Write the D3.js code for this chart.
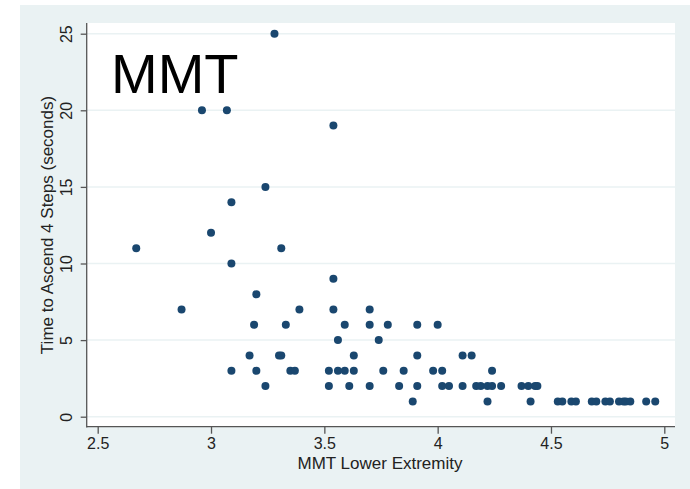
<!DOCTYPE html>
<meta charset="utf-8"/>
<style>
  body { margin: 0; background: #fff; }
  svg { display: block; font-family: "Liberation Sans", Arial, sans-serif; }
</style>
<svg width="690" height="489"></svg>
<script src="https://d3js.org/d3.v7.min.js" charset="utf-8"></script>
<script>

// data: MMT lower extremity score vs. time to ascend 4 steps
var mmtScore = [
  2.67, 2.87, 2.96, 3.00, 3.07, 3.09, 3.09, 3.09, 3.17, 3.19,
  3.20, 3.20, 3.24, 3.24, 3.28, 3.30, 3.31, 3.31, 3.33, 3.35,
  3.37, 3.39, 3.52, 3.52, 3.54, 3.54, 3.54, 3.56, 3.56, 3.59,
  3.59, 3.61, 3.63, 3.63, 3.70, 3.70, 3.70, 3.74, 3.76, 3.78,
  3.83, 3.85, 3.89, 3.91, 3.91, 3.91, 3.98, 4.00, 4.02, 4.02,
  4.05, 4.11, 4.11, 4.15, 4.17, 4.19, 4.22, 4.22, 4.24, 4.24,
  4.28, 4.37, 4.40, 4.41, 4.43, 4.44, 4.53, 4.55, 4.59, 4.61,
  4.68, 4.70, 4.74, 4.76, 4.80, 4.82, 4.83, 4.85, 4.92, 4.96
];
var ascendTime = [
  11, 7, 20, 12, 20, 14, 10, 3, 4, 6,
  8, 3, 15, 2, 25, 4, 4, 11, 6, 3,
  3, 7, 3, 2, 19, 9, 7, 5, 3, 6,
  3, 2, 4, 3, 7, 6, 2, 5, 3, 6,
  2, 3, 1, 6, 4, 2, 3, 6, 3, 2,
  2, 4, 2, 4, 2, 2, 2, 1, 3, 2,
  2, 2, 2, 1, 2, 2, 1, 1, 1, 1,
  1, 1, 1, 1, 1, 1, 1, 1, 1, 1
];
var xTicks = [2.5, 3, 3.5, 4, 4.5, 5];
var yTicks = [0, 5, 10, 15, 20, 25];

var svg = d3.select("svg");

// stata-ish graph region and plot region
svg.append("rect")
    .attr("x", 20).attr("y", 5).attr("width", 670).attr("height", 484)
    .attr("fill", "#eaf2f3");
svg.append("rect")
    .attr("x", 87).attr("y", 23).attr("width", 588).attr("height", 404)
    .attr("fill", "#fff");

var x = d3.scaleLinear().domain([2.5, 5]).range([97.7, 664.3]);
var y = d3.scaleLinear().domain([0, 25]).range([416.7, 33.7]);

// grid lines
svg.append("g").selectAll("line")
  .data(yTicks)
  .enter().append("line")
    .attr("x1", 87).attr("x2", 675)
    .attr("y1", d => y(d)).attr("y2", d => y(d))
    .attr("stroke", "#eaf2f3")
    .attr("stroke-width", 1.5);

// x axis
var xAxis = svg.append("g")
    .attr("transform", "translate(0,426.7)")
    .call(d3.axisBottom(x).tickValues(xTicks).tickSize(7).tickPadding(4)
          .tickFormat(d3.format("")));
xAxis.select(".domain").attr("d", "M86.7,0H675").attr("stroke", "#555").attr("stroke-width", 1.3);
xAxis.selectAll(".tick line").attr("stroke", "#555").attr("stroke-width", 1.3);
xAxis.selectAll(".tick text")
    .attr("font-size", "16px")
    .attr("font-family", "Liberation Sans, Arial, sans-serif")
    .attr("fill", "#222");

// y axis, labels turned like stata does
var yAxis = svg.append("g")
    .attr("transform", "translate(86.7,0)")
    .call(d3.axisLeft(y).tickValues(yTicks).tickSize(6));
yAxis.select(".domain").attr("d", "M0,23V427.4").attr("stroke", "#555").attr("stroke-width", 1.3);
yAxis.selectAll(".tick line").attr("stroke", "#555").attr("stroke-width", 1.3);
yAxis.selectAll(".tick text")
    .attr("x", null).attr("dy", null)
    .attr("transform", "translate(-15,0) rotate(-90)")
    .attr("text-anchor", "middle")
    .attr("font-size", "16px")
    .attr("font-family", "Liberation Sans, Arial, sans-serif")
    .attr("fill", "#222");

// titles
svg.append("text")
    .attr("x", 380).attr("y", 469)
    .attr("text-anchor", "middle")
    .style("font-size", "17px")
    .attr("fill", "#222")
    .text("MMT Lower Extremity");

svg.append("text")
    .attr("transform", "translate(53,225) rotate(-90)")
    .attr("text-anchor", "middle")
    .style("font-size", "17px")
    .attr("fill", "#222")
    .text("Time to Ascend 4 Steps (seconds)");

svg.append("text")
    .attr("x", 111).attr("y", 93)
    .style("font-size", "56px")
    .attr("fill", "#000")
    .text("MMT");

// points
svg.append("g").selectAll("circle")
  .data(mmtScore)
  .enter().append("circle")
    .attr("cx", d => x(d))
    .attr("cy", (d, i) => y(ascendTime[i]))
    .attr("r", 4)
    .attr("fill", "#1a476f");

</script>
